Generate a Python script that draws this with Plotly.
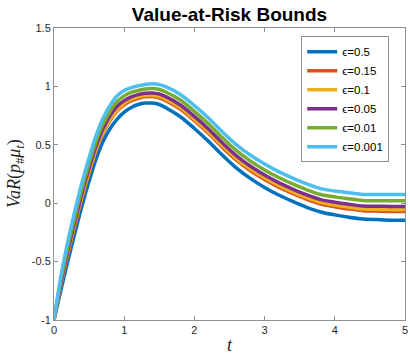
import plotly.graph_objects as go

t = [0, 0.1, 0.2, 0.3, 0.4, 0.5, 0.6, 0.7, 0.8, 0.9, 1.0, 1.1, 1.2, 1.3, 1.4, 1.5, 1.6,
     1.8, 2.0, 2.2, 2.4, 2.6, 2.8, 3.0, 3.2, 3.4, 3.6, 3.8, 4.0, 4.2, 4.4, 4.6, 4.8, 5.0]

var_eps_0_5 = [-1, -0.74, -0.49, -0.25, -0.02, 0.19, 0.38, 0.53, 0.64, 0.72, 0.78, 0.82, 0.845, 0.857,
               0.857, 0.845, 0.815, 0.74, 0.64, 0.53, 0.41, 0.30, 0.21, 0.135, 0.07, 0.015, -0.035,
               -0.075, -0.10, -0.12, -0.135, -0.14, -0.145, -0.145]
var_eps_0_15 = [-1, -0.70, -0.43, -0.19, 0.05, 0.26, 0.45, 0.60, 0.71, 0.79, 0.843, 0.878, 0.899, 0.911,
                0.913, 0.903, 0.876, 0.805, 0.706, 0.598, 0.478, 0.368, 0.278, 0.203, 0.138, 0.083, 0.033,
                -0.007, -0.030, -0.049, -0.064, -0.067, -0.070, -0.070]
var_eps_0_1 = [-1, -0.69, -0.42, -0.17, 0.06, 0.27, 0.46, 0.61, 0.72, 0.80, 0.856, 0.890, 0.911, 0.923,
               0.925, 0.915, 0.889, 0.818, 0.720, 0.612, 0.492, 0.382, 0.292, 0.217, 0.152, 0.097, 0.047,
               0.007, -0.016, -0.034, -0.049, -0.052, -0.055, -0.055]
var_eps_0_05 = [-1, -0.68, -0.40, -0.15, 0.09, 0.30, 0.49, 0.64, 0.75, 0.83, 0.878, 0.910, 0.930, 0.942,
                0.944, 0.935, 0.910, 0.841, 0.743, 0.636, 0.516, 0.406, 0.316, 0.241, 0.176, 0.121, 0.071,
                0.031, 0.009, -0.009, -0.024, -0.026, -0.028, -0.028]
var_eps_0_01 = [-1, -0.65, -0.36, -0.11, 0.13, 0.34, 0.53, 0.68, 0.79, 0.87, 0.919, 0.948, 0.965, 0.977,
                0.981, 0.973, 0.950, 0.883, 0.786, 0.680, 0.560, 0.450, 0.360, 0.285, 0.220, 0.165, 0.115,
                0.075, 0.054, 0.038, 0.023, 0.021, 0.020, 0.020]
var_eps_0_001 = [-1, -0.62, -0.32, -0.06, 0.18, 0.39, 0.58, 0.73, 0.84, 0.92, 0.965, 0.990, 1.005, 1.017,
                 1.022, 1.015, 0.995, 0.930, 0.835, 0.730, 0.610, 0.500, 0.410, 0.335, 0.270, 0.215, 0.165,
                 0.125, 0.105, 0.090, 0.075, 0.075, 0.075, 0.075]

series_names = ["ϵ=0.5", "ϵ=0.15", "ϵ=0.1", "ϵ=0.05", "ϵ=0.01", "ϵ=0.001"]
series_values = [var_eps_0_5, var_eps_0_15, var_eps_0_1, var_eps_0_05, var_eps_0_01, var_eps_0_001]
colors = ["#0072BD", "#D95319", "#EDB120", "#7E2F8E", "#77AC30", "#4DBEEE"]

x_ticks = [0, 1, 2, 3, 4, 5]
x_tick_labels = ["0", "1", "2", "3", "4", "5"]
y_ticks = [-1, -0.5, 0, 0.5, 1, 1.5]
y_tick_labels = ["-1", "-0.5", "0", "0.5", "1", "1.5"]

fig = go.Figure()
for name, vals, c in zip(series_names, series_values, colors):
    fig.add_trace(go.Scatter(x=t, y=vals, mode="lines", name=name,
                             line=dict(color=c, width=3.5, shape="spline", smoothing=0.9)))

axis_common = dict(showgrid=False, zeroline=False, showline=True, linecolor="#8f8f8f", linewidth=1,
                   mirror="ticks", ticks="inside", ticklen=4, tickcolor="#8f8f8f", tickwidth=1,
                   automargin=False, ticklabeloverflow="allow",
                   tickfont=dict(family="Liberation Sans, Arial, sans-serif", size=11, color="#262626"))

fig.update_xaxes(range=[0, 5], tickvals=x_ticks, ticktext=x_tick_labels, **axis_common)
fig.update_yaxes(range=[-1, 1.5], tickvals=y_ticks, ticktext=y_tick_labels, **axis_common)

fig.update_layout(
    template="none",
    width=410, height=355,
    margin=dict(l=54, r=5, t=28, b=35, autoexpand=False),
    paper_bgcolor="white", plot_bgcolor="white",
    title=dict(text="<b>Value-at-Risk Bounds</b>", x=(54 + 405) / 2 / 410, xanchor="center",
               y=1 - 14 / 355, yanchor="middle",
               font=dict(family="Liberation Sans, Arial, sans-serif", size=19, color="black")),
    legend=dict(x=0.955, y=0.972, xanchor="right", yanchor="top", bgcolor="white",
                bordercolor="#8f8f8f", borderwidth=1, tracegroupgap=0,
                font=dict(family="Liberation Sans, Arial, sans-serif", size=11.5, color="black")),
    showlegend=True,
    annotations=[
        dict(text="<i>VaR</i>(<i>p</i><sub>#</sub><i>μ</i><sub><i>t</i></sub>)", xref="paper", yref="paper",
             x=(15 - 54) / 351, y=0.5, xanchor="center", yanchor="middle", textangle=-90, showarrow=False,
             font=dict(family="Liberation Serif, Times New Roman, serif", size=18, color="#262626")),
        dict(text="<i>t</i>", xref="paper", yref="paper", x=0.5, y=(320 - 345) / 292,
             xanchor="center", yanchor="middle", showarrow=False,
             font=dict(family="Liberation Serif, Times New Roman, serif", size=18, color="#262626")),
    ],
)

fig.write_html("out.html", config={"displayModeBar": False},
               post_script="document.body.style.margin='0';document.body.style.padding='0';"
                           "document.body.style.overflow='hidden';")
